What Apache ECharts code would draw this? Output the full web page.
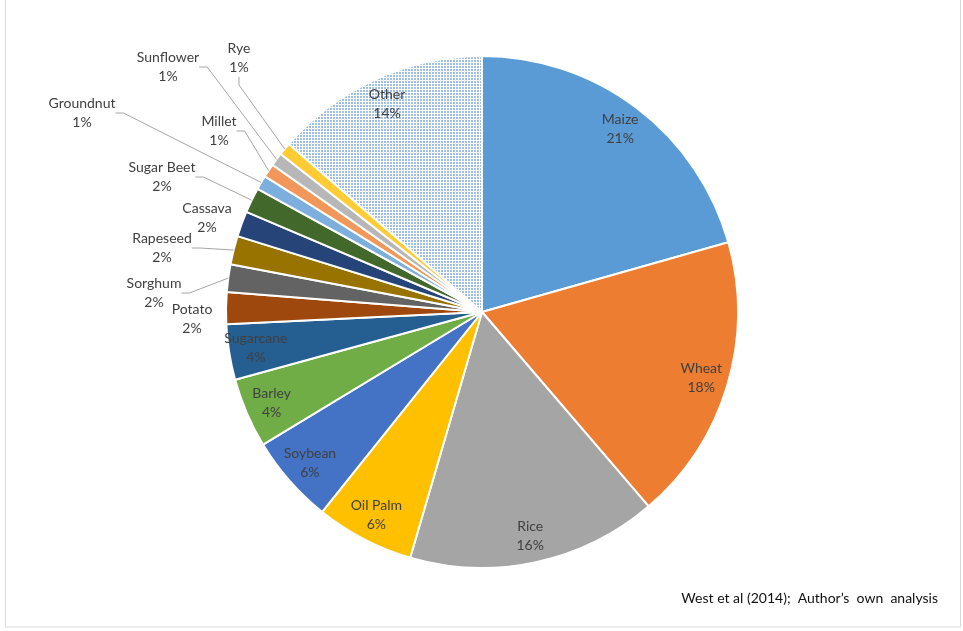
<!DOCTYPE html>
<html>
<head>
<meta charset="utf-8">
<script src="https://cdn.jsdelivr.net/npm/echarts@6/dist/echarts.min.js"></script>
<style>
html,body{margin:0;padding:0;background:#fff;}
#chart{width:963px;height:631px;}
</style>
</head>
<body>
<div id="chart"></div>
<script>
// ---- data ----
var categories = ['Maize','Wheat','Rice','Oil Palm','Soybean','Barley','Sugarcane','Potato','Sorghum','Rapeseed','Cassava','Sugar Beet','Groundnut','Millet','Sunflower','Rye','Other'];
var shares = [20.6, 18.1, 15.8, 6.2, 5.6, 4.4, 3.5, 2.0, 1.75, 1.8, 1.6, 1.6, 0.9, 0.85, 0.85, 0.8, 13.6];
var sourceNote = 'West et al (2014);  Author\u2019s  own  analysis';

// ---- styles ----
var colors = ['#5B9BD5','#ED7D31','#A5A5A5','#FFC000','#4472C4','#70AD47','#255E91','#9E480E','#636363','#997300','#264478','#43682B','#7CAFDD','#F1975A','#B7B7B7','#FFCD33', null];
var outsideLabels = {
  'Potato':     {x:192, y:319, line:false},
  'Sorghum':    {x:154, y:293, line:true},
  'Rapeseed':   {x:162, y:248, line:true},
  'Cassava':    {x:207, y:218, line:false},
  'Sugar Beet': {x:162, y:177, line:true},
  'Groundnut':  {x:82,  y:113, line:true},
  'Millet':     {x:219, y:131, line:true},
  'Sunflower':  {x:168, y:67,  line:true},
  'Rye':        {x:239, y:58,  line:true}
};

// dotted pattern for "Other"
var pc = document.createElement('canvas');
pc.width = 3; pc.height = 3;
var pctx = pc.getContext('2d');
pctx.fillStyle = '#ffffff'; pctx.fillRect(0,0,3,3);
pctx.fillStyle = '#9fbfe6'; pctx.fillRect(0,0,2,2);
var otherFill = {image: pc, repeat: 'repeat'};

var fontFam = 'Lato, "Open Sans", sans-serif';

var pieData = categories.map(function(c, i){
  return {name: c, value: shares[i], itemStyle: {color: colors[i] || otherFill}};
});
var labelData = categories.map(function(c, i){
  var out = outsideLabels[c];
  return {
    name: c, value: shares[i],
    label: {position: out ? 'outside' : 'inside'},
    labelLine: {show: !!(out && out.line)}
  };
});

var chart = echarts.init(document.getElementById('chart'), null, {renderer:'canvas'});
chart.setOption({
  backgroundColor: '#ffffff',
  animation: false,
  graphic: [
    {type:'rect', shape:{x:5.5, y:-5, width:955, height:632}, style:{fill:'none', stroke:'#d9d9d9', lineWidth:1}, silent:true},
    {type:'text', right: 25, top: 591, style:{text: sourceNote, fill:'#111', font:'14px ' + fontFam}, silent:true}
  ],
  series: [
    {
      type: 'pie', center: [482, 312], radius: 256, startAngle: 90, clockwise: true,
      data: pieData, silent: true,
      itemStyle: {borderColor:'#ffffff', borderWidth: 2},
      label: {show: false}, labelLine: {show: false},
      emphasis: {disabled: true}
    },
    {
      type: 'pie', center: [482, 312], radius: [196, 256], startAngle: 90, clockwise: true,
      data: labelData, silent: true, z: 3,
      itemStyle: {color: 'rgba(0,0,0,0)', borderWidth: 0},
      emphasis: {disabled: true},
      label: {
        show: true, color: '#404040', fontSize: 14, fontFamily: fontFam, lineHeight: 19, align: 'center',
        formatter: function(p){ return p.name + '\n' + Math.round(p.value) + '%'; }
      },
      labelLine: {length: 8, length2: 8, lineStyle: {color: '#a6a6a6', width: 1}},
      labelLayout: function(p){
        var out = outsideLabels[categories[p.dataIndex]];
        if (out) return {x: out.x, y: out.y, align: 'center', verticalAlign: 'middle'};
        return {};
      }
    }
  ]
});
</script>
</body>
</html>
